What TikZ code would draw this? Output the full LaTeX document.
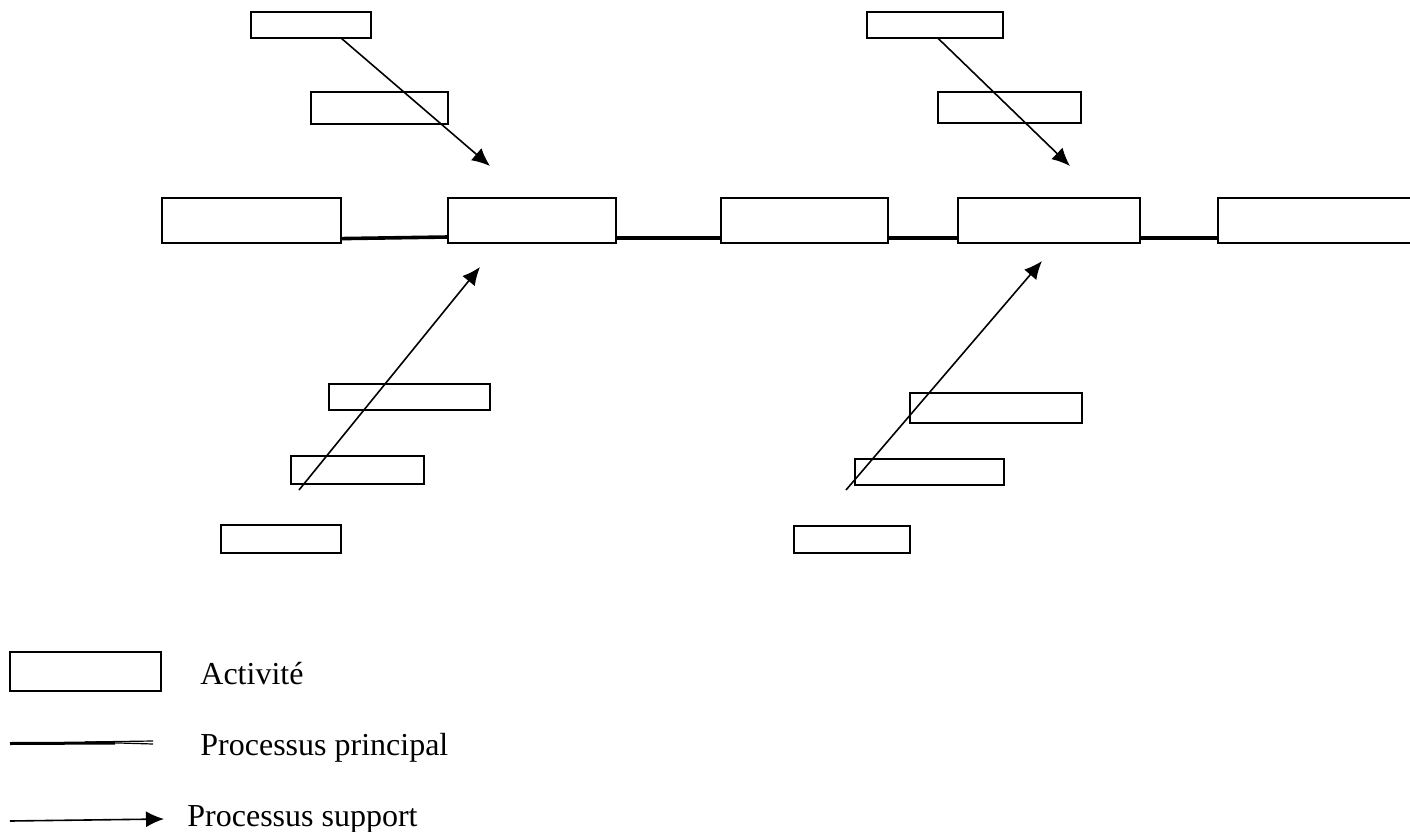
\documentclass[tikz,border=0pt]{standalone}
\usepackage{fontspec}
\setmainfont{Liberation Serif}
\usetikzlibrary{arrows.meta,calc}

% activity box: name, left, top, width, height (all in drawing units)
\newcommand\actbox[5]{%
  \node[actbox, minimum width=#4*0.5pt, minimum height=#5*0.5pt,
        anchor=north west] (#1) at (#2,#3) {};}

\tikzset{
  actbox/.style={draw=black, line width=1pt, fill=white, rectangle,
                 inner sep=0pt, outer sep=0pt},
  mainline/.style={draw=black, line width=1.8pt},
  support/.style={draw=black, line width=0.8pt,
                  -{Latex[length=9pt,width=8pt]}},
  legendtext/.style={anchor=base west, inner sep=0pt,
                     font=\fontsize{16pt}{19pt}\selectfont}
}

\begin{document}
\begin{tikzpicture}[x=0.5pt, y=-0.5pt]
\useasboundingbox (0,0) rectangle (1410,831);
\clip (0,0) rectangle (1410,831);

% main process chain
\actbox{m1}{162}{198}{179}{45}
\actbox{m2}{448}{198}{168}{45}
\actbox{m3}{721}{198}{167}{45}
\actbox{m4}{958}{198}{182}{45}
\actbox{m5}{1218}{198}{210}{45}

\draw[mainline] ([yshift=2.2pt]m1.south east) -- ([yshift=3pt]m2.south west);
\draw[mainline] ([yshift=2.5pt]m2.south east) -- ([yshift=2.5pt]m3.south west);
\draw[mainline] ([yshift=2.5pt]m3.south east) -- ([yshift=2.5pt]m4.south west);
\draw[mainline] ([yshift=2.5pt]m4.south east) -- ([yshift=2.5pt]m5.south west);

% upper support activities
\actbox{a1}{251}{12}{120}{26}
\actbox{a2}{311}{92}{137}{32}
\actbox{b1}{867}{12}{136}{26}
\actbox{b2}{938}{92}{143}{31}

% lower support activities
\actbox{c1}{329}{384}{161}{26}
\actbox{c2}{291}{456}{133}{28}
\actbox{c3}{221}{525}{120}{28}
\actbox{d1}{910}{393}{172}{30}
\actbox{d2}{855}{459}{149}{26}
\actbox{d3}{794}{526}{116}{27}

% support arrows
\coordinate (ta) at (490,166);
\coordinate (tb) at (1070,166);
\coordinate (sc) at (299,490);
\coordinate (tc) at (480,267);
\coordinate (sd) at (846,490);
\coordinate (td) at (1042,261);

\draw[support] ($(a1.south west)!0.75!(a1.south east)$) -- (ta);
\draw[support] ($(b1.south west)!0.52!(b1.south east)$) -- (tb);
\draw[support] (sc) -- (tc);
\draw[support] (sd) -- (td);

% legend
\actbox{lg}{10}{652}{151}{39}
\node[legendtext] (t1) at (200,684) {Activité};

% main-process sample: heavy stroke splitting into a thin double line
\coordinate (p0) at (10,743.5);
\coordinate (p1) at (115,743);
\coordinate (p2) at (85,742);
\coordinate (p3) at (153,741);
\coordinate (p4) at (153,744);
\draw[black, line width=1.5pt] (p0) -- (p1);
\draw[black, line width=0.6pt] (p2) -- (p3);
\draw[black, line width=0.6pt] (p2) -- (p4);
\node[legendtext] (t2) at (200,755) {Processus principal};

\coordinate (s0) at (10,821);
\coordinate (s1) at (164,819);
\draw[support] (s0) -- (s1);
\node[legendtext] (t3) at (187,826) {Processus support};
\end{tikzpicture}
\end{document}
